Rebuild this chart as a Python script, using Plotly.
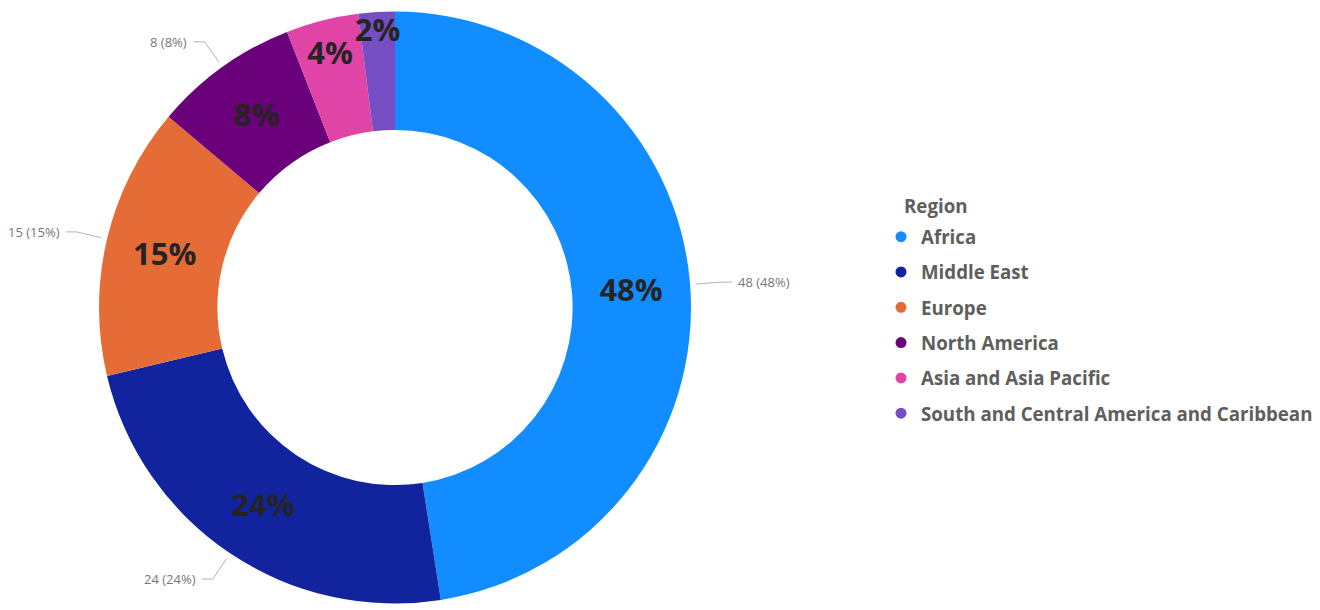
import math
import plotly.graph_objects as go

# ---- data ----
regions = ["Africa", "Middle East", "Europe", "North America",
           "Asia and Asia Pacific", "South and Central America and Caribbean"]
counts = [48, 24, 15, 8, 4, 2]
colors = ["#118DFF", "#12239E", "#E66C37", "#6B007B", "#E044A7", "#744EC2"]
legend_title = "Region"

# ---- layout constants (screen pixels) ----
OFF = 8                      # default page margin around the figure
W, H = 1320 - OFF, 610 - OFF
CX, CY, R = 395, 307.5, 296
HOLE = 0.6

total = sum(counts)
pcts = [c / total * 100 for c in counts]


def px2paper(x, y):
    return (x - OFF) / W, 1 - (y - OFF) / H


fig = go.Figure()

x0, y0 = px2paper(CX - R, CY + R)
x1_, y1_ = px2paper(CX + R, CY - R)
fig.add_trace(go.Pie(
    labels=regions, values=counts, sort=False, direction="clockwise", rotation=0,
    hole=HOLE,
    marker=dict(colors=colors, line=dict(width=0)),
    texttemplate="%{percent:.0%}", textposition="inside",
    insidetextorientation="horizontal",
    textfont=dict(family="Open Sans", size=31, color="#252423", weight="bold"),
    domain=dict(x=[x0, x1_], y=[y0, y1_]),
    showlegend=False, hoverinfo="skip",
))

# legend entries with round markers
for name, col in zip(regions, colors):
    fig.add_trace(go.Scatter(
        x=[None], y=[None], mode="markers", name=name, legendgroup=name,
        marker=dict(color=col, size=11, symbol="circle"),
    ))

# outside data labels with leader lines
cum = 0
shapes, annots = [], []
for c, p in zip(counts, pcts):
    mid = (cum + c / 2) / total
    cum += c
    if p < 5:
        continue
    th = 2 * math.pi * mid
    dx, dy = math.sin(th), -math.cos(th)
    x1, y1 = CX + dx * (R + 6), CY + dy * (R + 6)
    x2, y2 = CX + dx * (R + 31), CY + dy * (R + 31)
    side = 1 if dx >= 0 else -1
    x3, y3 = x2 + side * 11, y2
    a, b = px2paper(x1, y1)
    c2, d2 = px2paper(x2, y2)
    e, f = px2paper(x3, y3)
    shapes.append(dict(type="path", xref="paper", yref="paper",
                       path=f"M {a} {b} L {c2} {d2} L {e} {f}",
                       line=dict(color="#B3B3B3", width=1)))
    tx, ty = px2paper(x3 + side * 4, y3)
    annots.append(dict(xref="paper", yref="paper", x=tx, y=ty, showarrow=False,
                       text=f"{c} ({round(p)}%)",
                       xanchor="left" if side > 0 else "right", yanchor="middle",
                       font=dict(family="Open Sans", size=13, color="#777777")))

# legend title
lx, ly = px2paper(902, 205)
annots.append(dict(xref="paper", yref="paper", x=lx, y=ly, showarrow=False,
                   text=legend_title, xanchor="left", yanchor="middle",
                   font=dict(family="Open Sans", size=18.7, color="#605E5C", weight="bold")))

legx, legy = px2paper(921 - 40, 218)
fig.update_layout(
    width=W, height=H,
    margin=dict(l=0, r=0, t=0, b=0, autoexpand=False),
    paper_bgcolor="white", plot_bgcolor="white",
    xaxis=dict(visible=False), yaxis=dict(visible=False),
    uniformtext=dict(minsize=31, mode="show"),
    shapes=shapes, annotations=annots,
    legend=dict(
        font=dict(family="Open Sans", size=18.7, color="#605E5C", weight="bold"),
        x=legx, xanchor="left", y=legy, yanchor="top",
        tracegroupgap=8, itemwidth=30, bgcolor="rgba(0,0,0,0)",
    ),
)

fig.write_html("out.html")
